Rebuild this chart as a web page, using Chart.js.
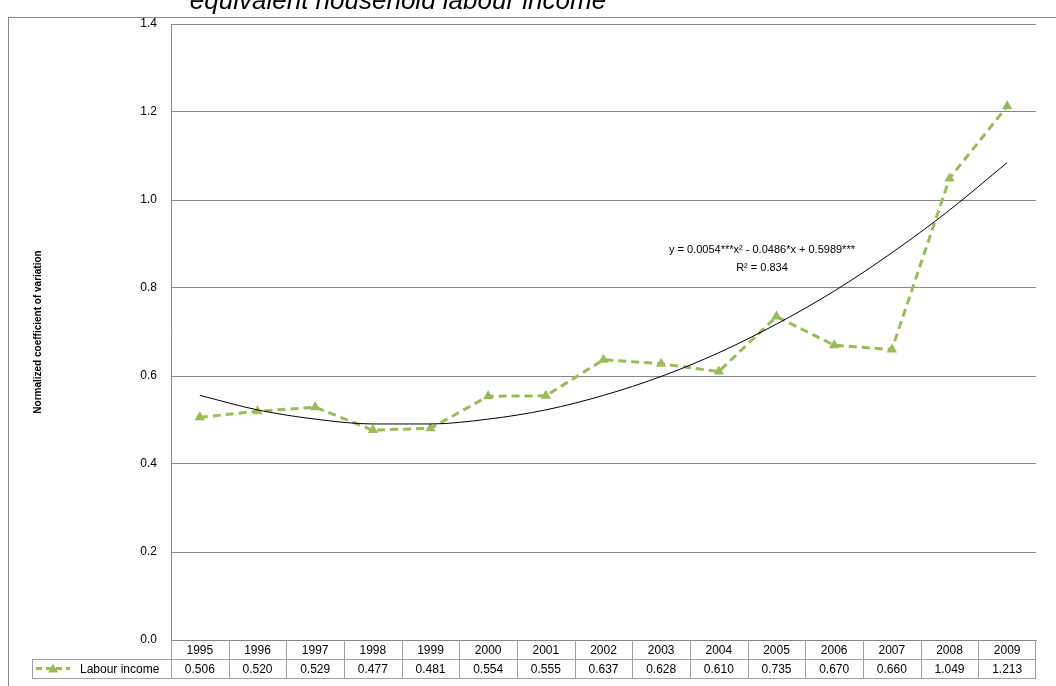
<!DOCTYPE html>
<html><head><meta charset="utf-8">
<script src="https://cdn.jsdelivr.net/npm/chart.js@4.4.0/dist/chart.umd.min.js"></script>
<style>html,body{margin:0;padding:0;background:#fff}#c{display:block}</style>
</head><body>
<div style="width:1056px;height:686px"><canvas id="c"></canvas></div>
<script>
const years = ["1995","1996","1997","1998","1999","2000","2001","2002","2003","2004","2005","2006","2007","2008","2009"];
const labourIncome = [0.506,0.520,0.529,0.477,0.481,0.554,0.555,0.637,0.628,0.610,0.735,0.670,0.660,1.049,1.213];
// trend line
const trend = [0.556,0.523,0.502,0.491,0.491,0.502,0.523,0.556,0.599,0.653,0.718,0.793,0.880,0.977,1.085];
const yTicks = [0,0.2,0.4,0.6,0.8,1.0,1.2,1.4];
const GREEN = "#9BBB59";
const FONT = "'Liberation Sans', Arial, sans-serif";

const tablePlugin = {
  id: "tablePlugin",
  afterDraw(chart) {
    const c = chart.ctx, a = chart.chartArea, x = chart.scales.x;
    const half = (x.getPixelForValue(1) - x.getPixelForValue(0)) / 2;
    const r0 = a.bottom, r1 = r0 + 19, r2 = r1 + 19;
    c.save();
    // outer border
    c.strokeStyle = "#868686"; c.lineWidth = 1;
    c.strokeRect(8.5, 17.5, 1100, 700);
    // title (cut at top)
    c.fillStyle = "#000"; c.font = "italic 26px " + FONT; c.textAlign = "center"; c.textBaseline = "alphabetic";
    c.fillText("equivalent household labour income", 398, 9);
    // y title
    c.save(); c.translate(38, (a.top + a.bottom) / 2); c.rotate(-Math.PI / 2);
    c.font = "bold 10px " + FONT; c.textBaseline = "middle";
    c.fillText("Normalized coefficient of variation", 0, 0); c.restore();
    // annotation
    c.font = "11px " + FONT; c.textBaseline = "middle";
    c.fillText("y = 0.0054***x\u00B2 - 0.0486*x + 0.5989***", 762, 250);
    c.fillText("R\u00B2 = 0.834", 762, 268);
    // table grid
    c.strokeStyle = "#a0a0a0";
    c.beginPath();
    c.moveTo(a.left, r1 + 0.5); c.lineTo(a.right, r1 + 0.5);
    c.moveTo(32, r1 + 0.5); c.lineTo(a.left, r1 + 0.5);
    c.moveTo(32, r2 + 0.5); c.lineTo(a.right, r2 + 0.5);
    c.moveTo(32.5, r1); c.lineTo(32.5, r2);
    c.moveTo(a.right - 0.5, r0); c.lineTo(a.right - 0.5, r2);
    years.forEach((y, i) => {
      const px = Math.round(x.getPixelForValue(i) - half) + 0.5;
      c.moveTo(px, r0); c.lineTo(px, r2);
    });
    c.stroke();
    c.font = "12px " + FONT; c.fillStyle = "#000";
    years.forEach((y, i) => {
      const px = x.getPixelForValue(i);
      c.fillText(y, px, (r0 + r1) / 2 + 1);
      c.fillText(labourIncome[i].toFixed(3), px, (r1 + r2) / 2 + 1);
    });
    // legend key
    const ly = (r1 + r2) / 2;
    c.strokeStyle = GREEN; c.lineWidth = 3; c.setLineDash([6, 4]);
    c.beginPath(); c.moveTo(36, ly); c.lineTo(70, ly); c.stroke(); c.setLineDash([]);
    c.fillStyle = GREEN; c.beginPath();
    c.moveTo(53, ly - 5); c.lineTo(58, ly + 4); c.lineTo(48, ly + 4); c.closePath(); c.fill();
    c.fillStyle = "#000"; c.textAlign = "left";
    c.fillText("Labour income", 80, ly + 1);
    c.restore();
  }
};

new Chart(document.getElementById("c"), {
  type: "line",
  data: {
    labels: years,
    datasets: [
      {
        label: "Labour income",
        data: labourIncome,
        borderColor: GREEN, backgroundColor: GREEN,
        borderWidth: 3, borderDash: [8, 5],
        pointStyle: "triangle", pointRadius: 6, pointBorderWidth: 0,
        tension: 0, order: 2
      },
      {
        label: "Trend",
        data: trend,
        borderColor: "#000", borderWidth: 1,
        pointRadius: 0, cubicInterpolationMode: "monotone", order: 1
      }
    ]
  },
  options: {
    responsive: true, maintainAspectRatio: false, animation: false,
    layout: { padding: { left: 8, right: 20, top: 24, bottom: 38 } },
    plugins: { legend: { display: false }, tooltip: { enabled: false } },
    scales: {
      x: {
        offset: true,
        grid: { display: false },
        border: { color: "#868686" },
        ticks: { display: false }
      },
      y: {
        min: 0, max: 1.4,
        afterBuildTicks: ax => { ax.ticks = yTicks.map(v => ({ value: v })); },
        afterFit: ax => { ax.width = 163; },
        grid: { color: "#868686", drawTicks: false },
        border: { color: "#868686" },
        ticks: { padding: 14, color: "#000", font: { family: FONT, size: 12 },
                 callback: v => v.toFixed(1) }
      }
    }
  },
  plugins: [tablePlugin]
});
</script>
</body></html>
